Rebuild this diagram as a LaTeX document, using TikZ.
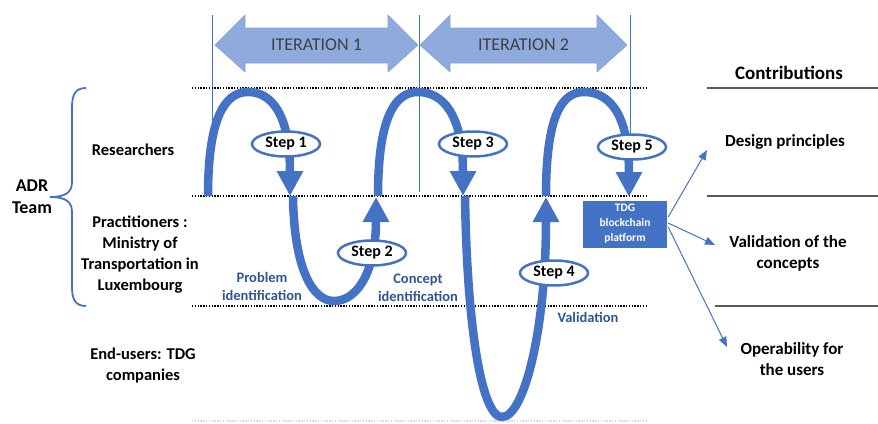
\documentclass[tikz,border=0pt]{standalone}
\usepackage{fontspec}
\setmainfont{Carlito}
\usepackage{xcolor}
\usepackage{tikz}
\usetikzlibrary{shapes,arrows,positioning,calc,arrows.meta}

\definecolor{adrblue}{RGB}{68,114,196}
\definecolor{labelblue}{RGB}{47,85,151}
\definecolor{iterfill}{RGB}{143,170,220}
\definecolor{itertext}{RGB}{64,64,64}
\definecolor{rulegray}{RGB}{89,89,89}

\begin{document}
\begin{tikzpicture}[x=1pt, y=-1pt,
    wave/.style={adrblue, line width=8.5pt, -{Triangle[length=25pt,width=25pt]}},
    stepnode/.style={ellipse, draw=adrblue, line width=2.5pt, fill=white, minimum width=68pt, minimum height=25pt, inner sep=0pt, font=\fontsize{16}{18}\selectfont\bfseries},
    role/.style={align=center, font=\fontsize{16.5}{21}\selectfont\bfseries},
    phase/.style={align=center, text=labelblue, font=\fontsize{14.5}{18}\selectfont\bfseries},
    contrib/.style={align=center, font=\fontsize{17}{21}\selectfont\bfseries},
    outarrow/.style={adrblue, line width=1pt, -{Triangle[length=10pt,width=8pt]}}]
    \useasboundingbox (0,0) rectangle (878,423);

    % Iteration arrows
    \foreach \xa/\xb/\num in {215/418/1, 420/627/2} {
        \draw[fill=iterfill, draw=iterfill!85!adrblue, line width=0.6pt] (\xa,45) -- (\xa+30,15) -- (\xa+30,28) -- (\xb-30,28) -- (\xb-30,15) -- (\xb,45) -- (\xb-30,72) -- (\xb-30,63) -- (\xa+30,63) -- (\xa+30,72) -- cycle;
        \node[text=itertext, font=\fontsize{18}{20}\selectfont] (iter\num) at ({(\xa+\xb)/2},45) {ITERATION \num};
    }

    % Iteration borders
    \foreach \x/\yend in {212/128, 419/192, 630/135}
        \draw[adrblue, line width=1pt] (\x,15) -- (\x,\yend);

    % Lanes
    \foreach \y in {88, 196, 306}
        \draw[dash pattern=on 1.4pt off 1.4pt, line width=1.2pt] (192,\y) -- (648,\y);
    \draw[black!15, dash pattern=on 1.4pt off 1.4pt, line width=1.2pt] (192,421) -- (648,421);

    % Steps
    \draw[wave] (208,196) .. controls (208,115) and (226,92) .. (248,92) .. controls (272,92) and (290,115) .. (290,196);
    \draw[wave] (293,196) .. controls (294,270) and (313,301) .. (334,301) .. controls (358,301) and (376,270) .. (376,197);
    \draw[wave] (378,196) .. controls (378,115) and (396,92) .. (418,92) .. controls (443,92) and (463,115) .. (463,196);
    \draw[wave] (465,196) .. controls (467,330) and (482,417) .. (502,417) .. controls (524,417) and (546,330) .. (546,197);
    \draw[wave] (546,196) .. controls (546,115) and (562,92) .. (584,92) .. controls (610,92) and (629,115) .. (629,197);

    \foreach \x/\y/\num in {286/144/1, 372/253/2, 473/144/3, 554/273/4, 632/147/5}
        \node[stepnode] (step\num) at (\x,\y) {Step \num};

    % Phase labels
    \node[phase] (problem) at (262,286) {Problem\\identification};
    \node[phase] (concept) at (418,288) {Concept\\identification};
    \node[phase] (validation) at (588,317) {Validation};

    % ADR team
    \draw[adrblue, line width=1.8pt] (86,88) .. controls (75,88) and (72,95) .. (72,108) -- (72,182) .. controls (72,192) and (66,197) .. (50,197) .. controls (66,197) and (72,202) .. (72,212) -- (72,287) .. controls (72,299) and (75,306) .. (86,306);
    \node[role, font=\fontsize{18}{22}\selectfont\bfseries] (adr) at (32,197) {ADR\\Team};
    \node[role] (researchers) at (133,150) {Researchers};
    \node[role] (practitioners) at (140,255) {Practitioners :\\Ministry of\\Transportation in\\Luxembourg};
    \node[role] (endusers) at (143,366) {End-users: TDG\\companies};

    % Platform
    \node[fill=adrblue, text=white, align=center, minimum width=84pt, minimum height=47pt, inner sep=0pt, font=\fontsize{11.5}{15}\selectfont\bfseries] (tdg) at (625,224) {TDG\\blockchain\\platform};

    % Contributions
    \foreach \y/\xs in {88/707, 196/707, 306/715}
        \draw[rulegray, line width=1.2pt] (\xs,\y) -- (878,\y);
    \node[contrib, font=\fontsize{19}{21}\selectfont\bfseries] (contributions) at (789,73) {Contributions};
    \node[contrib] (design) at (785,142) {Design principles};
    \node[contrib] (concepts) at (788,253) {Validation of the\\concepts};
    \node[contrib] (operability) at (792,359) {Operability for\\the users};

    \coordinate (design-in) at (707,150);
    \coordinate (concepts-in) at (715,245);
    \coordinate (operability-in) at (727,347);
    \draw[outarrow] ($(tdg.east)+(1,-7)$) -- (design-in);
    \draw[outarrow] ($(tdg.east)+(1,-1)$) -- (concepts-in);
    \draw[outarrow] ($(tdg.east)+(1,3)$) -- (operability-in);
\end{tikzpicture}
\end{document}
